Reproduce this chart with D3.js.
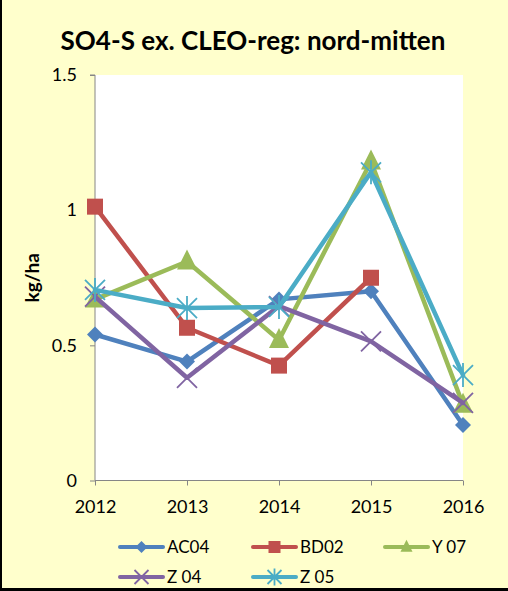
<!DOCTYPE html>
<html><head><meta charset="utf-8">
<script src="https://cdn.jsdelivr.net/npm/d3@7"></script>
<style>html,body{margin:0;padding:0;background:#FFFFCC;}svg{display:block;}</style>
</head><body>
<script>
const years = ["2012","2013","2014","2015","2016"];
const seriesNames = ["AC04","BD02","Y 07","Z 04","Z 05"];
const AC04 = [0.54, 0.44, 0.67, 0.70, 0.205];
const BD02 = [1.013, 0.565, 0.425, 0.75, null];
const Y07  = [0.67, 0.81, 0.52, 1.18, 0.28];
const Z04  = [0.68, 0.38, 0.645, 0.515, 0.287];
const Z05  = [0.705, 0.638, 0.642, 1.14, 0.39];
const yTicks = [0, 0.5, 1, 1.5];
const colors = ["#4F81BD","#C0504D","#9BBB59","#8064A2","#4BACC6"];
const markers = ["diamond","square","triangle","x","star"];
const allSeries = [AC04, BD02, Y07, Z04, Z05];

(function(){
const W = 508, H = 591;
const svg = d3.select("body").append("svg").attr("width", W).attr("height", H);
svg.append("rect").attr("width", W).attr("height", H).attr("fill", "#FFFFCC");
svg.append("rect").attr("x",0).attr("y",0).attr("width",2).attr("height",H).attr("fill","#000");
svg.append("rect").attr("x",0).attr("y",588).attr("width",W).attr("height",3).attr("fill","#000");

const pL = 95, pR = 463, pT = 75, pB = 480.5;
const x = d3.scalePoint().domain(years).range([pL, pR]);
const y = d3.scaleLinear().domain([0, 1.5]).range([pB, pT]);

svg.append("rect").attr("x", pL).attr("y", pT).attr("width", pR-pL).attr("height", pB-pT).attr("fill", "#fff");

const font = "Lato, 'Open Sans', sans-serif";
svg.append("text").attr("x", 253).attr("y", 50).attr("text-anchor","middle")
  .attr("font-family", font).attr("font-weight","bold").attr("font-size", 26).attr("fill","#000")
  .text("SO4-S ex. CLEO-reg: nord-mitten");

const yAxis = d3.axisLeft(y).tickValues(yTicks).tickFormat(d3.format("")).tickSize(5).tickPadding(13);
const gy = svg.append("g").attr("transform", `translate(${pL},0)`).call(yAxis);
const xAxis = d3.axisBottom(x).tickSize(5).tickPadding(15);
const gx = svg.append("g").attr("transform", `translate(0,${pB})`).call(xAxis);
[gy, gx].forEach(g => {
  g.select(".domain").attr("stroke", "#868686").attr("stroke-width", 1);
  g.selectAll(".tick line").attr("stroke", "#868686");
  g.selectAll("text").attr("font-family", font).attr("font-size", 18).attr("fill", "#000");
});
gy.select(".domain").attr("d", `M-5,${pT}H0V${pB}`);
gx.select(".domain").attr("d", `M${pL},0H${pR}`);

svg.append("text").attr("transform", `translate(39,${(pT+pB)/2}) rotate(-90)`)
  .attr("text-anchor","middle").attr("font-family", font).attr("font-weight","bold")
  .attr("font-size", 19).text("kg/ha");

function drawMarker(g, type, cx, cy, color, s) {
  if (type === "diamond") {
    g.append("path").attr("d", `M${cx},${cy-s}L${cx+s},${cy}L${cx},${cy+s}L${cx-s},${cy}Z`).attr("fill", color);
  } else if (type === "square") {
    g.append("rect").attr("x", cx-s).attr("y", cy-s).attr("width", 2*s).attr("height", 2*s).attr("fill", color);
  } else if (type === "triangle") {
    g.append("path").attr("d", `M${cx},${cy-s*1.2}L${cx+s},${cy+s*0.8}L${cx-s},${cy+s*0.8}Z`).attr("fill", color);
  } else if (type === "x") {
    g.append("path").attr("d", `M${cx-s},${cy-s}L${cx+s},${cy+s}M${cx-s},${cy+s}L${cx+s},${cy-s}`).attr("stroke", color).attr("stroke-width", 1.8);
  } else if (type === "star") {
    g.append("path").attr("d", `M${cx-s},${cy-s}L${cx+s},${cy+s}M${cx-s},${cy+s}L${cx+s},${cy-s}M${cx},${cy-s*1.2}L${cx},${cy+s*1.2}`).attr("stroke", color).attr("stroke-width", 1.8);
  }
}

const line = d3.line().defined(d => d[1] != null).x(d => x(d[0])).y(d => y(d[1]));
allSeries.forEach((vals, i) => {
  const g = svg.append("g");
  const pts = years.map((yr, j) => [yr, vals[j]]);
  g.append("path").attr("d", line(pts)).attr("fill","none").attr("stroke", colors[i])
    .attr("stroke-width", 4.5).attr("stroke-linejoin","round").attr("stroke-linecap","round");
  pts.forEach(p => { if (p[1] != null) drawMarker(g, markers[i], x(p[0]), y(p[1]), colors[i], i===1?8:(i===0?8:10)); });
});

const legPos = [[120,547],[253,547],[385,547],[120,577],[253,577]];
seriesNames.forEach((name, i) => {
  const [lx, ly] = legPos[i];
  const g = svg.append("g");
  g.append("line").attr("x1", lx).attr("x2", lx+43).attr("y1", ly).attr("y2", ly)
    .attr("stroke", colors[i]).attr("stroke-width", 4).attr("stroke-linecap","round");
  drawMarker(g, markers[i], lx+21.5, ly, colors[i], i===3||i===4 ? 7 : 6);
  g.append("text").attr("x", lx+47).attr("y", ly+6).attr("font-family", font).attr("font-size", 17).text(name);
});
})();
</script>
</body></html>
